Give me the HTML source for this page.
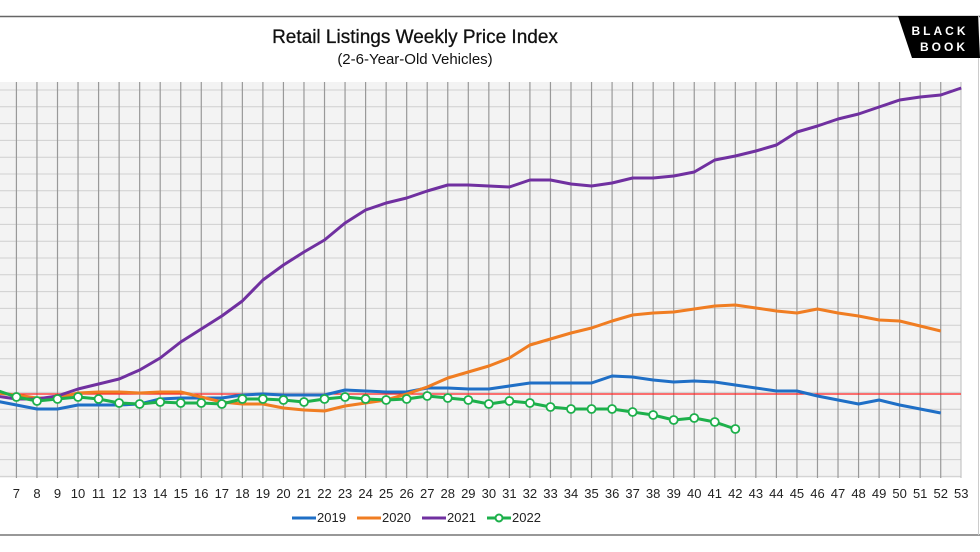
<!DOCTYPE html>
<html><head><meta charset="utf-8"><style>
html,body{margin:0;padding:0;background:#fff;}
svg{display:block;font-family:"Liberation Sans",Arial,sans-serif;}
</style></head><body>
<svg id="s" width="980" height="552" viewBox="0 0 980 552" xmlns="http://www.w3.org/2000/svg">
<rect width="980" height="552" fill="#fff"/>
<line x1="0" y1="16.5" x2="980" y2="16.5" stroke="#666" stroke-width="1.5"/>
<line x1="0" y1="535" x2="980" y2="535" stroke="#777" stroke-width="1.5"/>
<line x1="978.5" y1="16" x2="978.5" y2="535" stroke="#ccc" stroke-width="1"/>
<text x="415" y="43" font-size="19" text-anchor="middle" fill="#111" stroke="#111" stroke-width="0.3">Retail Listings Weekly Price Index</text>
<text x="415" y="64" font-size="15" text-anchor="middle" fill="#111">(2-6-Year-Old Vehicles)</text>
<polygon points="898,16 978,16 980,58 912,58" fill="#000"/>
<text x="940" y="35" font-size="12" fill="#fff" text-anchor="middle" letter-spacing="3" font-weight="bold">BLACK</text>
<text x="944" y="51" font-size="12" fill="#fff" text-anchor="middle" letter-spacing="3" font-weight="bold">BOOK</text>
<rect x="0" y="82" width="961" height="396" fill="#f3f3f3"/>
<g id="grid"></g>
<line x1="0" y1="394" x2="961" y2="394" stroke="#ff2020" stroke-width="1.3"/>
<g id="series"></g>
<g id="labels" font-size="13" fill="#222" text-anchor="middle"></g>
<g font-size="13" fill="#222">
<line x1="292" y1="518" x2="316" y2="518" stroke="#1f6fc6" stroke-width="3"/><text x="317" y="522">2019</text>
<line x1="357" y1="518" x2="381" y2="518" stroke="#f07d22" stroke-width="3"/><text x="382" y="522">2020</text>
<line x1="422" y1="518" x2="446" y2="518" stroke="#7030a0" stroke-width="3"/><text x="447" y="522">2021</text>
<line x1="487" y1="518" x2="511" y2="518" stroke="#1db04b" stroke-width="3"/><circle cx="499" cy="518" r="3.5" fill="#fff" stroke="#1db04b" stroke-width="2"/><text x="512" y="522">2022</text>
</g>
</svg>
<script>
var NS="http://www.w3.org/2000/svg";
function X(w){return 571+(w-34)*20.54;}
function el(t,a,p){var e=document.createElementNS(NS,t);for(var k in a)e.setAttribute(k,a[k]);p.appendChild(e);return e;}
var g=document.getElementById('grid');
for(var y=90;y<478;y+=16.8){el('line',{x1:0,y1:y,x2:961,y2:y,stroke:'#d0d0d0','stroke-width':1},g);}
for(var w=7;w<=52;w++){el('line',{x1:X(w),y1:82,x2:X(w),y2:478,stroke:'#999','stroke-width':1.2},g);}
el('line',{x1:961,y1:82,x2:961,y2:478,stroke:'#bbb','stroke-width':1},g);
var L=document.getElementById('labels');
for(var w=7;w<=53;w++){var t=el('text',{x:X(w),y:498},L);t.textContent=w;}
var d19=[[6,401],[7,405],[8,409],[9,409],[10,405],[11,405],[12,405],[13,404],[14,399],[15,398],[16,398],[17,398],[18,395],[19,394],[20,395],[21,395],[22,395],[23,390],[24,391],[25,392],[26,392],[27,388],[28,388],[29,389],[30,389],[31,386],[32,383],[33,383],[34,383],[35,383],[36,376],[37,377],[38,380],[39,382],[40,381],[41,382],[42,385],[43,388],[44,391],[45,391],[46,396],[47,400],[48,404],[49,400],[50,405],[51,409],[52,413]];
var d20=[[6,393],[7,395],[8,398],[9,398],[10,393],[11,392],[12,392],[13,393],[14,392],[15,392],[16,397],[17,402],[18,404],[19,404],[20,408],[21,410],[22,411],[23,406],[24,403],[25,400],[26,394],[27,387],[28,378],[29,372],[30,366],[31,358],[32,345],[33,339],[34,333],[35,328],[36,321],[37,315],[38,313],[39,312],[40,309],[41,306],[42,305],[43,308],[44,311],[45,313],[46,309],[47,313],[48,316],[49,320],[50,321],[51,326],[52,331]];
var d21=[[6,396],[7,399],[8,399],[9,396],[10,389],[11,384],[12,379],[13,370],[14,358],[15,342],[16,329],[17,316],[18,301],[19,280],[20,265],[21,252],[22,240],[23,223],[24,210],[25,203],[26,198],[27,191],[28,185],[29,185],[30,186],[31,187],[32,180],[33,180],[34,184],[35,186],[36,183],[37,178],[38,178],[39,176],[40,172],[41,160],[42,156],[43,151],[44,145],[45,132],[46,126],[47,119],[48,114],[49,107],[50,100],[51,97],[52,95],[53,88]];
var d22=[[6,390],[7,397],[8,401],[9,399],[10,397],[11,399],[12,403],[13,404],[14,402],[15,403],[16,403],[17,404],[18,399],[19,399],[20,400],[21,402],[22,399],[23,397],[24,399],[25,400],[26,399],[27,396],[28,398],[29,400],[30,404],[31,401],[32,403],[33,407],[34,409],[35,409],[36,409],[37,412],[38,415],[39,420],[40,418],[41,422],[42,429]];
var S=document.getElementById('series');
function line(d,c){el('polyline',{points:d.map(function(p){return X(p[0])+','+p[1]}).join(' '),fill:'none',stroke:c,'stroke-width':3,'stroke-linejoin':'round'},S);}
line(d19,'#1f6fc6');line(d20,'#f07d22');line(d21,'#7030a0');line(d22,'#1db04b');
d22.forEach(function(p){if(p[0]>=7)el('circle',{cx:X(p[0]),cy:p[1],r:4,fill:'#fff',stroke:'#1db04b','stroke-width':1.8},S);});
</script>
</body></html>
